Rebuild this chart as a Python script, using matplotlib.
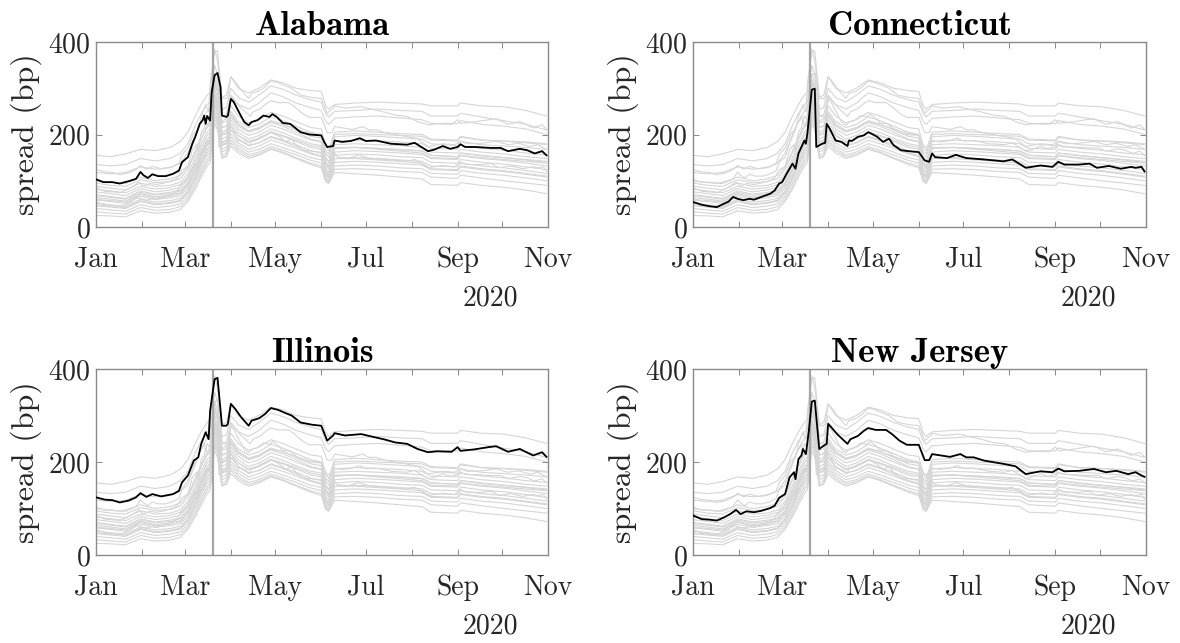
import matplotlib
matplotlib.use("Agg")
import matplotlib.pyplot as plt
import matplotlib.dates as mdates
import numpy as np

plt.rcParams["font.family"] = ["cmr10", "DejaVu Serif"]
plt.rcParams["mathtext.fontset"] = "cm"
plt.rcParams["axes.unicode_minus"] = False
plt.rcParams["axes.formatter.use_mathtext"] = True

# ── data: spreads in bp, day offsets counted from 1 Jan 2020 ────────────────
STATES = ["Alabama", "Connecticut", "Illinois", "New Jersey"]

AL_DAYS = [0, 5, 11, 16, 22, 27, 30, 32, 35, 38, 42, 47, 52, 56, 58, 62, 65, 67, 70, 72,
           73, 74, 75, 77, 78, 80, 82, 84, 85, 88, 89, 91, 93, 97, 100, 103, 105, 109, 113, 117,
           119, 122, 126, 131, 133, 138, 144, 152, 154, 156, 160, 161, 166, 172, 178, 182, 189, 199, 210, 215,
           217, 224, 228, 234, 239, 244, 246, 249, 256, 266, 273, 278, 286, 291, 296, 301, 304]
AL_VALS = [103, 97, 97, 94, 99, 104, 119, 112, 106, 114, 110, 110, 115, 122, 140, 151, 180, 195, 223, 231,
           241, 223, 240, 230, 290, 328, 333, 303, 241, 238, 241, 277, 270, 245, 227, 220, 227, 231, 241, 238,
           244, 238, 225, 223, 218, 205, 200, 198, 184, 173, 175, 187, 184, 186, 192, 186, 187, 180, 178, 182,
           178, 164, 167, 175, 169, 173, 179, 173, 173, 171, 171, 164, 169, 166, 159, 164, 155]

CT_DAYS = [0, 6, 11, 16, 20, 24, 27, 30, 34, 38, 41, 46, 52, 55, 58, 60, 63, 67, 69, 71,
           73, 75, 76, 77, 80, 82, 83, 87, 89, 90, 92, 96, 100, 104, 105, 107, 111, 115, 118, 120,
           124, 128, 132, 135, 140, 145, 152, 156, 159, 161, 163, 171, 177, 184, 196, 209, 215, 224, 234, 242,
           246, 250, 260, 267, 272, 280, 288, 295, 298, 302, 304]
CT_VALS = [54, 48, 45, 43, 49, 55, 65, 61, 58, 61, 59, 65, 72, 79, 94, 97, 115, 137, 126, 159,
           173, 187, 180, 202, 297, 299, 173, 180, 182, 223, 213, 187, 184, 175, 187, 186, 195, 198, 205, 202,
           195, 184, 191, 177, 166, 164, 162, 144, 141, 159, 151, 149, 156, 149, 146, 142, 146, 128, 133, 130,
           141, 135, 135, 137, 128, 132, 126, 130, 128, 130, 120]

IL_DAYS = [0, 6, 11, 16, 22, 27, 30, 34, 38, 44, 52, 56, 58, 62, 66, 69, 71, 74, 76, 77,
           80, 82, 85, 88, 89, 91, 94, 98, 103, 105, 110, 114, 118, 123, 128, 132, 138, 146, 152, 156,
           160, 161, 168, 179, 187, 194, 202, 210, 217, 224, 230, 240, 244, 246, 255, 265, 270, 278, 286, 295,
           301, 304]
IL_VALS = [124, 119, 118, 113, 117, 124, 133, 125, 131, 126, 131, 138, 156, 171, 203, 210, 239, 264, 249, 310,
           378, 381, 278, 278, 282, 325, 314, 296, 278, 289, 294, 303, 316, 312, 305, 300, 285, 280, 278, 246,
           257, 262, 257, 260, 254, 249, 242, 239, 228, 221, 223, 222, 232, 224, 227, 232, 234, 222, 228, 214,
           221, 211]

NJ_DAYS = [0, 6, 11, 16, 21, 25, 29, 32, 36, 41, 46, 52, 55, 58, 62, 65, 68, 69, 71, 73,
           74, 76, 78, 80, 82, 85, 88, 90, 91, 93, 97, 104, 106, 111, 115, 118, 123, 130, 134, 139,
           144, 152, 156, 159, 161, 167, 173, 180, 184, 189, 196, 209, 217, 224, 234, 242, 246, 250, 260, 270,
           278, 285, 293, 298, 302, 304]
NJ_VALS = [85, 77, 76, 74, 81, 88, 97, 88, 94, 92, 95, 101, 106, 123, 131, 167, 178, 163, 206, 214,
           228, 217, 267, 330, 332, 228, 235, 239, 282, 275, 260, 239, 249, 256, 267, 273, 269, 269, 260, 246,
           237, 237, 204, 204, 217, 214, 211, 217, 210, 210, 203, 196, 191, 174, 180, 178, 186, 180, 181, 185,
           178, 181, 174, 178, 171, 168]

# remaining states, sampled on a common set of days
OTHER_DAYS = [0, 10, 20, 30, 40, 50, 57, 62, 67, 71, 75, 77, 80, 82, 85, 88, 91, 96, 103, 110,
              118, 126, 135, 145, 152, 155, 157, 161, 175, 190, 205, 220, 226, 244, 246, 260, 275, 290, 304]
OTHER_VALS = [
    [155, 152, 158, 168, 165, 172, 185, 205, 240, 265, 285, 290, 385, 360, 280, 285, 325, 300, 290, 300,
     318, 312, 300, 295, 293, 262, 255, 265, 268, 270, 268, 266, 262, 262, 268, 262, 260, 252, 240],
    [135, 132, 135, 148, 143, 148, 160, 180, 220, 245, 265, 270, 350, 330, 255, 258, 300, 280, 270, 285,
     305, 298, 285, 275, 270, 245, 238, 250, 252, 255, 252, 250, 240, 240, 246, 238, 230, 222, 210],
    [118, 115, 118, 130, 125, 128, 138, 160, 200, 228, 250, 255, 330, 310, 240, 242, 285, 265, 255, 268,
     290, 282, 268, 258, 252, 228, 222, 235, 238, 240, 236, 232, 224, 224, 230, 222, 218, 212, 200],
    [100, 96, 94, 108, 100, 104, 112, 130, 165, 195, 220, 228, 315, 295, 215, 218, 245, 222, 208, 214,
     226, 218, 205, 190, 185, 150, 140, 172, 172, 168, 164, 160, 150, 148, 155, 150, 146, 142, 138],
    [95, 90, 88, 102, 96, 98, 105, 125, 160, 190, 215, 222, 320, 300, 225, 228, 262, 240, 225, 232,
     248, 240, 228, 215, 212, 175, 165, 205, 208, 205, 202, 200, 190, 188, 196, 188, 186, 184, 180],
    [88, 84, 80, 95, 88, 90, 97, 115, 150, 180, 205, 212, 310, 290, 215, 218, 250, 228, 215, 222,
     238, 230, 218, 205, 200, 160, 150, 195, 198, 196, 193, 190, 180, 176, 185, 178, 175, 172, 168],
    [82, 78, 74, 88, 82, 85, 92, 108, 142, 172, 198, 205, 300, 280, 205, 210, 242, 222, 208, 215,
     230, 222, 210, 196, 192, 150, 140, 185, 188, 186, 184, 180, 170, 168, 176, 170, 166, 160, 156],
    [76, 72, 68, 83, 76, 80, 86, 102, 135, 165, 190, 197, 290, 272, 198, 202, 232, 212, 198, 205,
     220, 212, 200, 188, 184, 142, 132, 178, 180, 178, 176, 172, 162, 160, 168, 162, 158, 152, 148],
    [70, 66, 62, 78, 71, 75, 80, 96, 128, 158, 182, 190, 280, 262, 190, 195, 225, 205, 190, 198,
     212, 204, 192, 180, 176, 135, 125, 170, 172, 170, 168, 165, 155, 152, 160, 155, 150, 145, 140],
    [68, 64, 60, 75, 69, 72, 78, 94, 126, 154, 178, 186, 275, 258, 178, 182, 210, 190, 176, 182,
     194, 186, 174, 160, 155, 118, 108, 148, 148, 145, 142, 138, 126, 124, 132, 126, 122, 116, 110],
    [64, 60, 56, 72, 65, 69, 74, 90, 122, 150, 175, 183, 272, 255, 183, 188, 218, 198, 183, 190,
     204, 196, 185, 172, 168, 128, 118, 162, 165, 163, 160, 157, 148, 146, 154, 148, 144, 138, 132],
    [60, 57, 54, 70, 63, 66, 72, 90, 125, 155, 182, 190, 285, 268, 200, 205, 238, 218, 205, 212,
     228, 222, 212, 202, 198, 165, 158, 200, 202, 200, 198, 196, 188, 186, 194, 188, 186, 182, 178],
    [58, 55, 51, 66, 60, 63, 68, 84, 115, 143, 168, 176, 265, 248, 176, 180, 210, 190, 176, 182,
     196, 188, 178, 165, 160, 122, 112, 155, 158, 156, 152, 150, 140, 138, 146, 140, 136, 130, 124],
    [52, 48, 45, 60, 54, 57, 62, 78, 108, 136, 160, 168, 258, 240, 168, 172, 202, 182, 168, 175,
     188, 180, 170, 158, 152, 115, 106, 148, 150, 148, 145, 142, 132, 130, 138, 132, 128, 122, 116],
    [48, 45, 42, 57, 50, 53, 58, 76, 108, 140, 166, 175, 268, 250, 182, 186, 218, 198, 185, 192,
     206, 198, 188, 176, 172, 138, 128, 170, 172, 170, 167, 164, 155, 152, 160, 154, 150, 146, 142],
    [46, 43, 40, 55, 48, 51, 56, 72, 102, 130, 154, 162, 250, 232, 162, 166, 195, 176, 162, 168,
     180, 172, 162, 150, 145, 110, 100, 140, 142, 140, 137, 134, 124, 122, 130, 124, 120, 114, 108],
    [40, 37, 34, 48, 42, 45, 50, 66, 95, 122, 146, 155, 242, 225, 155, 160, 188, 170, 156, 162,
     174, 166, 156, 144, 138, 104, 96, 132, 134, 132, 128, 126, 116, 114, 122, 116, 112, 106, 100],
    [33, 30, 28, 42, 36, 38, 44, 60, 88, 115, 140, 148, 235, 218, 150, 155, 182, 165, 152, 158,
     170, 162, 150, 138, 132, 100, 95, 125, 126, 124, 120, 118, 108, 105, 112, 106, 100, 95, 90],
    [25, 24, 22, 35, 30, 32, 38, 55, 82, 108, 132, 140, 225, 210, 148, 152, 175, 160, 148, 155,
     168, 160, 148, 135, 128, 98, 94, 118, 115, 112, 108, 104, 92, 90, 96, 90, 86, 80, 72],
]

EVENT_DAY = 79          # vertical marker (20 Mar 2020)

# ── helpers ─────────────────────────────────────────────────────────────────
BASE = np.datetime64("2020-01-01")


def to_dates(days):
    return BASE + np.array(days, dtype="timedelta64[D]")


HIGHLIGHT = {
    "Alabama": (AL_DAYS, AL_VALS),
    "Connecticut": (CT_DAYS, CT_VALS),
    "Illinois": (IL_DAYS, IL_VALS),
    "New Jersey": (NJ_DAYS, NJ_VALS),
}

GRAY = "#d6d6d6"
AXCOL = "#8a8a8a"
TXT = "#262626"

fig = plt.figure(figsize=(11.8, 6.43), dpi=100)
W, H = 1180, 643
boxes = [(96, 42, 548, 227), (693, 42, 1146, 227),
         (96, 369, 548, 555), (693, 369, 1146, 555)]

for state, (x0, y0, x1, y1) in zip(STATES, boxes):
    ax = fig.add_axes([x0 / W, 1 - y1 / H, (x1 - x0) / W, (y1 - y0) / H])

    # all states in light grey
    for vals in OTHER_VALS:
        ax.plot(to_dates(OTHER_DAYS), vals, color=GRAY, lw=0.8, zorder=1)
    for d, v in HIGHLIGHT.values():
        ax.plot(to_dates(d), v, color=GRAY, lw=0.8, zorder=1)

    ax.axvline(to_dates([EVENT_DAY])[0], color="#a6a6a6", lw=1.6, zorder=2)

    d, v = HIGHLIGHT[state]
    ax.plot(to_dates(d), v, color="black", lw=1.3, zorder=3)

    ax.set_xlim(np.datetime64("2020-01-01"), np.datetime64("2020-11-01"))
    ax.set_ylim(0, 400)
    ax.set_yticks([0, 200, 400])

    ax.xaxis.set_major_locator(mdates.MonthLocator())
    ax.xaxis.set_major_formatter(plt.FuncFormatter(
        lambda x, pos: mdates.num2date(x).strftime("%b")
        if mdates.num2date(x).month % 2 == 1 else ""))

    ax.tick_params(direction="in", length=4, width=0.7, color=AXCOL,
                   top=True, right=True, labelsize=20, labelcolor=TXT)
    ax.tick_params(axis="x", pad=14)
    ax.tick_params(axis="y", pad=4)
    for sp in ax.spines.values():
        sp.set_color(AXCOL)
        sp.set_linewidth(1.0)

    ax.set_ylabel("spread (bp)", fontsize=23, color=TXT, labelpad=4)
    ax.set_title(state, fontsize=25, family="cmb10", color="black", pad=5)
    ax.text(0.872, -0.385, "2020", transform=ax.transAxes, ha="center",
            va="center", fontsize=20, color=TXT)

fig.savefig("out.png", dpi=100)
